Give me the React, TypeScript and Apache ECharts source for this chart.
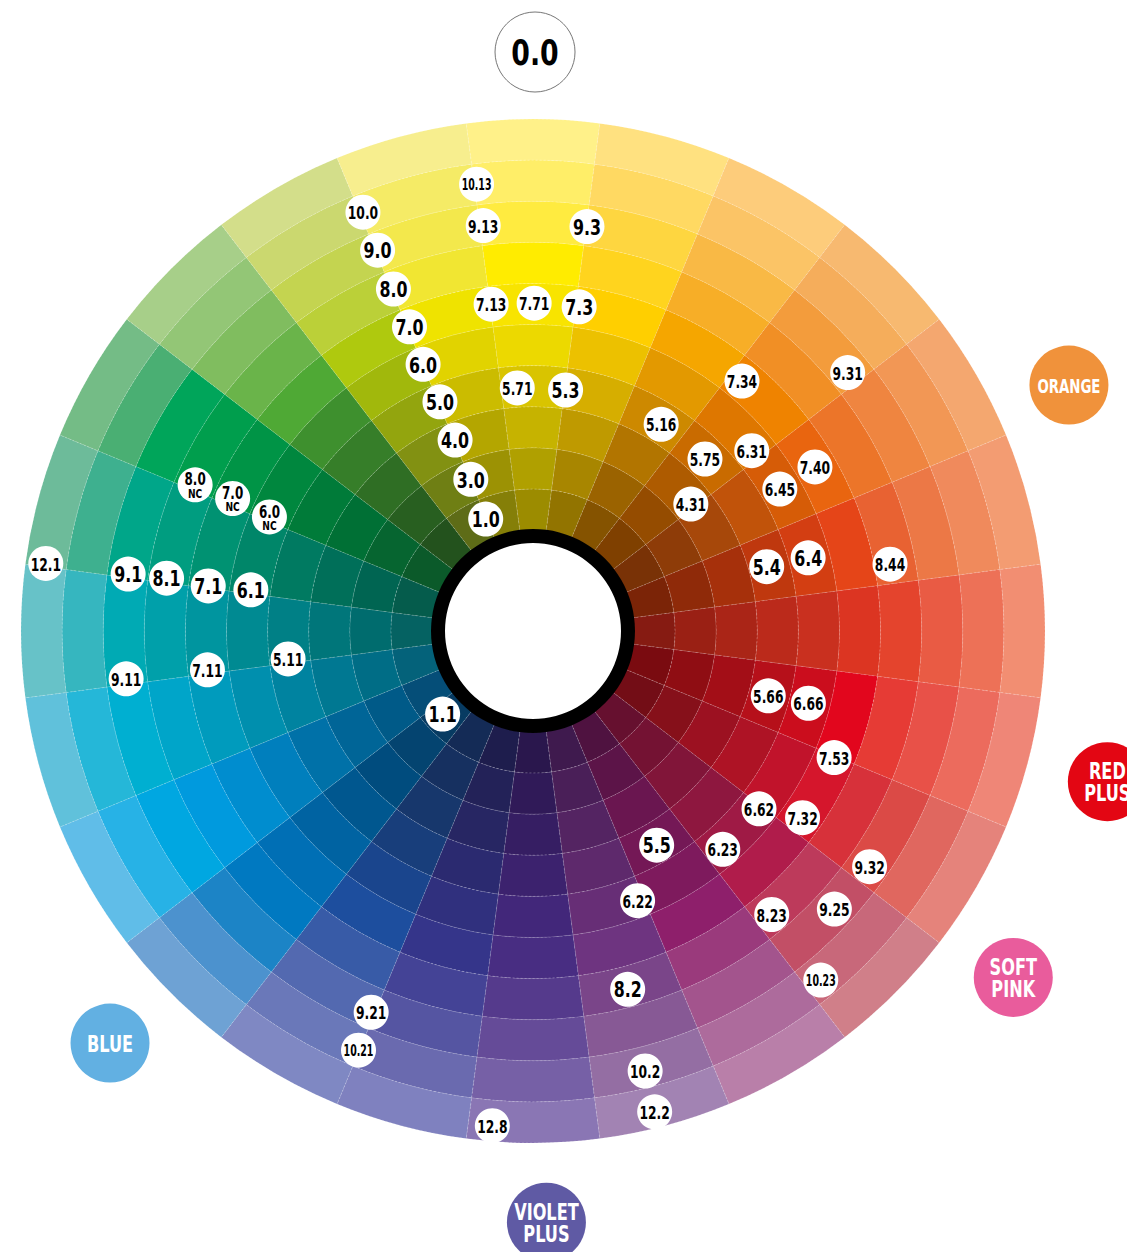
import React, { useEffect, useRef } from "react";
import * as echarts from "echarts";

// 24 hue sectors, clockwise from the top (centre angle in degrees)
const sectors: string[] = [
  "0", "15", "30", "45", "60", "75", "90", "105", "120", "135", "150", "165",
  "180", "195", "210", "225", "240", "255", "270", "285", "300", "315", "330", "345",
];

// thickness of each of the 10 concentric rings (inner -> outer), in ring units
const ringWidths: number[] = [1, 1, 1, 1, 1, 1, 1, 1, 1, 1];

// colour of every cell: one list per sector, inner ring -> outer ring
const sectorColors: string[][] = [
  ["#9c8c00", "#b0a000", "#c6b300", "#d9c400", "#ecd900", "#f8e400", "#ffec00", "#ffeb40", "#ffee68", "#fff189"],
  ["#927400", "#a88600", "#bf9a00", "#d6ae00", "#ecc100", "#ffcf00", "#ffd41e", "#fed640", "#ffd962", "#ffe180"],
  ["#855300", "#9b6300", "#b27500", "#cd8900", "#e39900", "#f5a600", "#f7ae27", "#f9b945", "#fbc466", "#fdcc7b"],
  ["#7f4000", "#954c00", "#ae5b00", "#c96b00", "#de7700", "#ef8300", "#f18f25", "#f39c3c", "#f5ad5b", "#f7b970"],
  ["#793206", "#8e3c08", "#a7480a", "#c1530a", "#d65c07", "#e9650f", "#ec7529", "#ef8540", "#f29755", "#f4a76f"],
  ["#7b2407", "#8f2a09", "#a6300b", "#bf380e", "#d33e12", "#e54518", "#e86232", "#ec7846", "#f08a5c", "#f39c72"],
  ["#861b12", "#9a2014", "#aa2517", "#bb2a1b", "#c9301f", "#dc3522", "#e4442d", "#e95b44", "#ed7157", "#f28e72"],
  ["#7a0b10", "#8f0d13", "#a30e17", "#b6101a", "#cb0d1d", "#e2061d", "#e63b35", "#e85148", "#ec6b5d", "#ef8677"],
  ["#730d16", "#86101a", "#9c1121", "#ae1325", "#c1132b", "#d5162c", "#d7313a", "#db4a46", "#e0675f", "#e5837b"],
  ["#66102f", "#741233", "#811539", "#8e173f", "#9f1a45", "#b01c4b", "#bd3a5b", "#c24f66", "#c8687a", "#d07f89"],
  ["#4f1240", "#5c1448", "#6a1650", "#741856", "#7e1a5d", "#8e1f6b", "#9a3a7c", "#a3548d", "#ad6b9c", "#b97fa9"],
  ["#3f1a4e", "#4a1f58", "#542462", "#5e296c", "#672e76", "#6e3480", "#7a4589", "#875995", "#946ea3", "#a283b3"],
  ["#2a174d", "#301a58", "#361e63", "#3c226e", "#42277a", "#482d82", "#553a8c", "#654b98", "#7660a6", "#8a76b4"],
  ["#1e1d4d", "#232258", "#272663", "#2b2a70", "#30307e", "#35358a", "#444396", "#5555a2", "#6a6aaf", "#7f81bf"],
  ["#142b56", "#163060", "#17376c", "#183e7b", "#1a458d", "#1d4e9e", "#385ba7", "#5369b0", "#6a78b9", "#7f88c3"],
  ["#073b62", "#044470", "#004c7e", "#00578f", "#0063a2", "#006fb5", "#0079c1", "#1c84c6", "#4c92ce", "#6ea2d4"],
  ["#054e78", "#005a88", "#006597", "#0071a8", "#007fbd", "#008dcf", "#009ade", "#00a7e1", "#27b2e6", "#60bde8"],
  ["#04627a", "#006d86", "#007892", "#0083a0", "#008fae", "#009bbd", "#00a5c9", "#00afd1", "#25b7d8", "#60c1db"],
  ["#056262", "#006c6e", "#00767a", "#008086", "#008a92", "#00959f", "#00a0aa", "#00aab4", "#36b6bf", "#67c2c8"],
  ["#055c4c", "#006552", "#006f59", "#007a61", "#008669", "#009272", "#009d80", "#00a689", "#3eb08f", "#6dbb9a"],
  ["#0b5a2a", "#066530", "#007035", "#007b39", "#00873e", "#009446", "#009e4d", "#00a55a", "#4aaf73", "#74bc86"],
  ["#23521d", "#285f20", "#2f6e24", "#367e29", "#3e902e", "#4fa935", "#6ab44a", "#80bd5f", "#93c676", "#a7cf89"],
  ["#5e6c17", "#6f7f14", "#829112", "#93a50e", "#a1b80c", "#afc90e", "#bbd038", "#c4d450", "#cbd86f", "#d3de8a"],
  ["#857f08", "#9c9204", "#b4a600", "#cbbc00", "#e1d300", "#efe300", "#f1e632", "#f3e84c", "#f5eb66", "#f7ee8e"],
];

// shade codes: [code, angle clockwise from top (deg), radial position in ring units from the hole]
const codeLabels: [string, number, number][] = [
  ["10.13", 352.8, 8.5], ["9.13", 353.0, 7.48], ["9.3", 7.6, 7.47],
  ["7.13", 352.7, 5.56], ["7.71", 0.2, 5.52], ["7.3", 8.1, 5.51],
  ["5.71", 356.3, 3.47], ["5.3", 7.7, 3.46],
  ["10.0", 337.9, 8.54], ["9.0", 337.8, 7.55], ["8.0", 337.8, 6.53], ["7.0", 337.9, 5.53],
  ["6.0", 337.6, 4.56], ["5.0", 337.9, 3.56], ["4.0", 337.8, 2.56], ["3.0", 337.7, 1.53], ["1.0", 337.1, 0.5],
  ["8.0 NC", 293.4, 6.5], ["7.0 NC", 293.8, 5.53], ["6.0 NC", 293.4, 4.53],
  ["12.1", 277.9, 9.51], ["9.1", 278.0, 7.49], ["8.1", 278.2, 6.55], ["7.1", 277.9, 5.52], ["6.1", 278.3, 4.48],
  ["9.11", 263.3, 7.51], ["7.11", 263.2, 5.52], ["5.11", 263.5, 3.54], ["1.1", 227.4, 0.53],
  ["5.16", 31.8, 3.46], ["7.34", 39.9, 5.47], ["9.31", 50.6, 7.45], ["5.75", 45.0, 3.46],
  ["6.31", 50.5, 4.44], ["7.40", 59.8, 5.48], ["6.45", 60.1, 4.47], ["4.31", 51.2, 2.47],
  ["5.4", 74.6, 3.44], ["6.4", 75.1, 4.47], ["8.44", 79.4, 6.38],
  ["5.66", 105.4, 3.48], ["6.66", 104.7, 4.47], ["7.53", 112.8, 5.49],
  ["6.62", 128.2, 4.54], ["7.32", 124.7, 5.52], ["9.32", 125.0, 7.54],
  ["5.5", 150.0, 3.56], ["6.23", 139.0, 4.58], ["6.22", 158.8, 4.58], ["8.23", 139.9, 6.56],
  ["9.25", 132.7, 7.52], ["10.23", 140.5, 8.55], ["8.2", 165.2, 6.56],
  ["10.2", 165.7, 8.59], ["12.2", 165.8, 9.61], ["12.8", 184.7, 9.62],
  ["9.21", 203.0, 7.62], ["10.21", 202.6, 8.59],
];

// the natural level shown above the wheel
const topLabel: [string, number, number] = ["0.0", 0.2, 11.63];

// colour families around the wheel: [name, angle, radial position, fill]
const familyLabels: [string, number, number, string][] = [
  ["ORANGE", 65.35, 11.89, "#f0923b"],
  ["RED\nPLUS", 104.7, 11.99, "#e30613"],
  ["SOFT\nPINK", 125.8, 11.95, "#e95c9c"],
  ["VIOLET\nPLUS", 178.7, 11.93, "#5f5aa4"],
  ["BLUE", 225.75, 11.91, "#62b0e2"],
];

const FONT = "'DejaVu Sans Condensed', 'DejaVu Sans', sans-serif";
const CX = 533;
const CY = 631;
const HOLE = 101;
const RING_PX = 41.1;
const LABEL_MAX = 12.5;

function fontFor(code: string): number {
  const n = code.length;
  if (n <= 3) return 22;
  if (n === 4) return 18;
  return 15;
}

function squeezeFor(code: string): number {
  const n = code.length;
  if (n <= 3) return 0.8;
  if (n === 4) return 0.76;
  return 0.7;
}

const hiddenAxis = {
  axisLine: { show: false },
  axisTick: { show: false },
  axisLabel: { show: false },
  splitLine: { show: false },
  splitArea: { show: false },
};

function textEl(text: string, x: number, y: number, size: number, fill: string, squeeze: number) {
  return {
    type: "text",
    x,
    y,
    scaleX: squeeze,
    style: {
      text,
      x: 0,
      y: 0,
      align: "center",
      verticalAlign: "middle",
      font: `bold ${size}px ${FONT}`,
      fill,
    },
  };
}

export default function App() {
  const ref = useRef<HTMLDivElement>(null);

  useEffect(() => {
    if (!ref.current) return;
    const chart = echarts.init(ref.current, undefined, { renderer: "svg" });
    const totalRings = ringWidths.reduce((a, b) => a + b, 0);

    const ringSeries = ringWidths.map((w, ring) => ({
      type: "bar",
      coordinateSystem: "polar",
      polarIndex: 0,
      stack: "wheel",
      barCategoryGap: "0%",
      silent: true,
      itemStyle: {
        borderColor: "rgba(255,255,255,0.32)",
        borderWidth: 0.6,
        borderType: [2, 2],
      },
      data: sectorColors.map((cols) => ({ value: w, itemStyle: { color: cols[ring] } })),
    }));

    const allCodes: [string, number, number][] = [...codeLabels, topLabel];

    const codeSeries = {
      type: "custom",
      coordinateSystem: "polar",
      polarIndex: 1,
      silent: true,
      z: 5,
      data: allCodes.map(([, ang, r]) => [r, ang]),
      renderItem: (params: any, api: any) => {
        const [x, y] = api.coord([api.value(0), api.value(1)]);
        const code = allCodes[params.dataIndex][0];
        if (params.dataIndex === allCodes.length - 1) {
          return {
            type: "group",
            children: [
              { type: "circle", shape: { cx: x, cy: y, r: 40 }, style: { fill: "#fff", stroke: "#777", lineWidth: 1 } },
              textEl(code, x, y + 1, 35, "#000", 0.85),
            ],
          };
        }
        const children: any[] = [
          { type: "circle", shape: { cx: x, cy: y, r: 17.5 }, style: { fill: "#fff" } },
        ];
        if (code.endsWith(" NC")) {
          children.push(textEl(code.replace(" NC", ""), x, y - 5, 17, "#000", 0.78));
          children.push(textEl("NC", x, y + 8.5, 13, "#000", 0.78));
        } else {
          children.push(textEl(code, x, y + 1, fontFor(code), "#000", squeezeFor(code)));
        }
        return { type: "group", children };
      },
    };

    const familySeries = {
      type: "custom",
      coordinateSystem: "polar",
      polarIndex: 1,
      silent: true,
      z: 5,
      data: familyLabels.map(([, ang, r]) => [r, ang]),
      renderItem: (params: any, api: any) => {
        const [x, y] = api.coord([api.value(0), api.value(1)]);
        const [name, , , fill] = familyLabels[params.dataIndex];
        const lines = name.split("\n");
        const size = name === "ORANGE" ? 19 : 23;
        const children: any[] = [
          { type: "circle", shape: { cx: x, cy: y, r: 39.5 }, style: { fill } },
        ];
        if (lines.length === 1) {
          children.push(textEl(lines[0], x, y + 1, size, "#fff", 0.78));
        } else {
          children.push(textEl(lines[0], x, y - 10, size, "#fff", 0.78));
          children.push(textEl(lines[1], x, y + 12, size, "#fff", 0.78));
        }
        return { type: "group", children };
      },
    };

    chart.setOption({
      animation: false,
      backgroundColor: "#ffffff",
      polar: [
        { center: [CX, CY], radius: [HOLE, HOLE + totalRings * RING_PX] },
        { center: [CX, CY], radius: [HOLE, HOLE + LABEL_MAX * RING_PX] },
      ],
      angleAxis: [
        {
          polarIndex: 0,
          type: "category",
          data: sectors,
          startAngle: 97.5,
          clockwise: true,
          boundaryGap: true,
          ...hiddenAxis,
        },
        {
          polarIndex: 1,
          type: "value",
          min: 0,
          max: 360,
          startAngle: 90,
          clockwise: true,
          ...hiddenAxis,
        },
      ],
      radiusAxis: [
        { polarIndex: 0, type: "value", min: 0, max: totalRings, ...hiddenAxis },
        { polarIndex: 1, type: "value", min: 0, max: LABEL_MAX, ...hiddenAxis },
      ],
      graphic: [
        {
          type: "ring",
          z: 100,
          silent: true,
          shape: { cx: CX, cy: CY, r: 102, r0: 88 },
          style: { fill: "#000" },
        },
      ],
      series: [...ringSeries, codeSeries, familySeries],
    });

    return () => chart.dispose();
  }, []);

  return (
    <div
      ref={ref}
      style={{ position: "absolute", left: 0, top: 0, width: 1127, height: 1252, background: "#fff" }}
    />
  );
}
